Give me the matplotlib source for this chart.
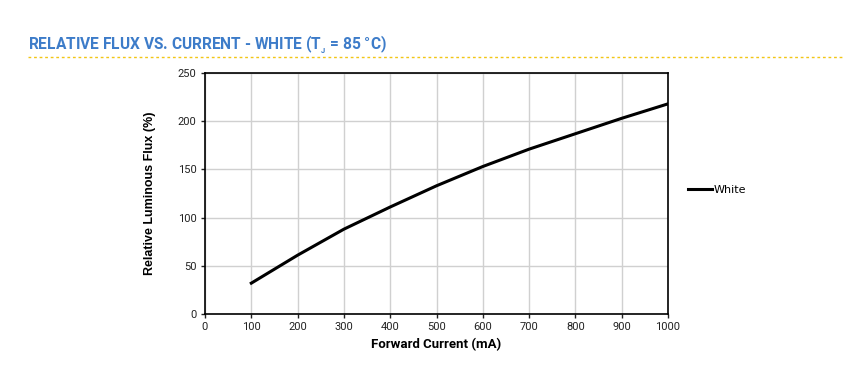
import matplotlib
matplotlib.use('Agg')
from matplotlib import pyplot as plt
from matplotlib.lines import Line2D

current_ma = [100, 200, 300, 400, 500, 600, 700, 800, 900, 1000]
flux_white = [32, 61, 88, 111, 133, 153, 171, 187, 203, 218]

x_ticks = list(range(0, 1001, 100))
y_ticks = list(range(0, 251, 50))

TITLE_BLUE = '#3d7cc9'
plt.rcParams['mathtext.fontset'] = 'custom'
plt.rcParams['mathtext.bf'] = 'Roboto:bold'
plt.rcParams['mathtext.rm'] = 'Roboto:bold'

fig = plt.figure(figsize=(8.64, 3.75), dpi=100)
ax = fig.add_axes([205/864, 61/375, 463/864, 241/375])

ax.plot(current_ma, flux_white, color='black', lw=2.2, label='White')

ax.set_xlim(0, 1000)
ax.set_ylim(0, 250)
ax.set_xticks(x_ticks)
ax.set_yticks(y_ticks)
ax.grid(True, color='#d0d0d0', lw=1)
ax.set_axisbelow(True)
for s in ax.spines.values():
    s.set_color('black')
    s.set_linewidth(1.2)
ax.tick_params(labelsize=8, length=3, width=1, colors='#222222', pad=3)
for lab in ax.get_xticklabels() + ax.get_yticklabels():
    lab.set_family('Roboto')

ax.set_xlabel('Forward Current (mA)', fontsize=9.5, fontweight='bold', family='Roboto', labelpad=4)
ax.set_ylabel('Relative Luminous Flux (%)', fontsize=9, fontweight='bold', family='Liberation Sans', labelpad=16)

handle = Line2D([0], [0], color='black', lw=2.2)
fig.legend([handle], ['White'], loc='center left', bbox_to_anchor=(678/864, 1 - 190/375),
           frameon=False, handlelength=2.2, handletextpad=0.1,
           prop={'family': 'DejaVu Sans', 'size': 8})

fig.text(28/864, 1 - 45/375, 'RELATIVE FLUX VS. CURRENT - WHITE (T$_{_{\\mathbf{J}}}$ = 85 °C)',
         color=TITLE_BLUE, fontsize=11.2, fontweight='bold', family='Roboto', va='center')
fig.add_artist(Line2D([28/864, 844/864], [1 - 57/375, 1 - 57/375], color='#f2c615',
                      lw=1, linestyle=(0, (2, 2)), transform=fig.transFigure))

fig.savefig('out.png', dpi=100)
